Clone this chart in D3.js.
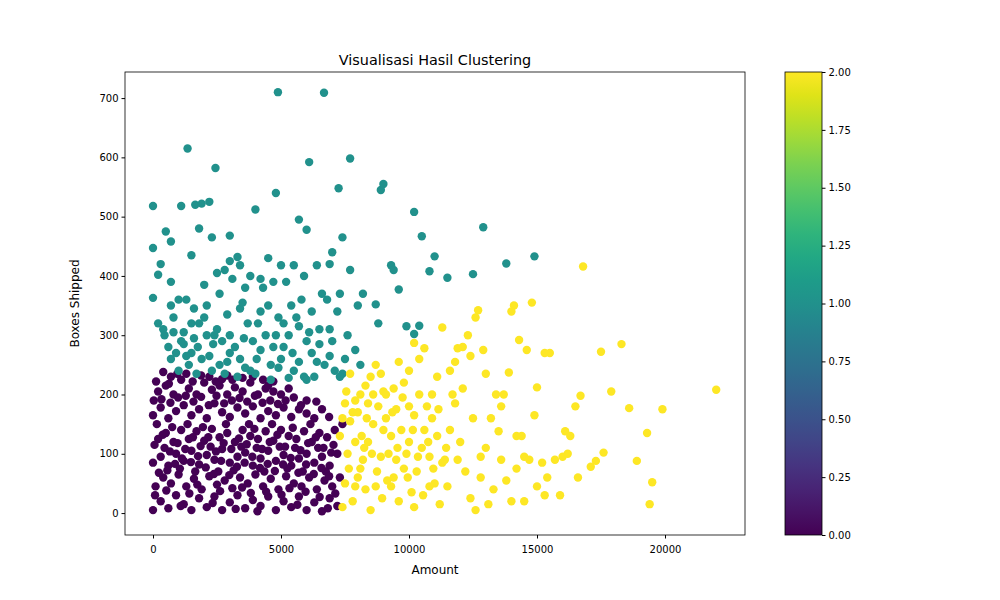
<!DOCTYPE html>
<html>
<head>
<script src="https://d3js.org/d3.v7.min.js"></script>
<style>body{margin:0;background:#fff;} text{font-family:"DejaVu Sans",sans-serif;}</style>
</head>
<body>
<svg width="1000" height="600"></svg>
<script>
// [amount, boxes] per cluster
var cluster0 = [
[0,5],[300,20],[600,8],[900,30],[1200,15],[1500,5],[1800,25],[2100,10],[2400,28],[2700,5],[3000,18],[3300,30],[3600,8],[3900,22],[4200,12],[4500,28],[4800,5],[5100,20],[5400,10],[5700,28],[6000,5],[6300,18],[6600,3],[6900,25],[7200,12],
[100,45],[400,60],[700,50],[1000,65],[1300,45],[1600,58],[1900,40],[2200,62],[2500,48],[2800,55],[3100,42],[3400,60],[3700,50],[4000,65],[4300,45],[4600,58],[4900,40],[5200,62],[5500,50],[5800,45],[6100,60],[6400,40],[6700,55],[7000,45],
[0,85],[300,95],[600,80],[900,100],[1200,88],[1500,105],[1800,82],[2100,98],[2400,90],[2700,108],[3000,85],[3300,95],[3600,102],[3900,80],[4200,92],[4500,105],[4800,88],[5100,98],[5400,80],[5700,92],[6000,100],[6300,85],[6600,95],[6900,80],[7200,100],
[200,125],[500,135],[800,120],[1100,140],[1400,125],[1700,138],[2000,122],[2300,142],[2600,128],[2900,135],[3200,120],[3500,140],[3800,130],[4100,125],[4400,138],[4700,122],[5000,140],[5300,130],[5600,125],[5900,138],[6200,120],[6500,135],[6800,128],[7100,140],
[0,165],[300,178],[600,160],[900,172],[1200,182],[1500,165],[1800,175],[2100,160],[2400,185],[2700,170],[3000,162],[3300,178],[3600,168],[3900,180],[4200,160],[4500,172],[4800,165],[5100,178],[5400,162],[5700,175],[6000,168],[6300,160],[6600,175],
[200,205],[500,215],[800,200],[1100,225],[1400,210],[1700,200],[2000,220],[2300,208],[2600,215],[2900,200],[3200,212],[3500,205],[3800,220],[4100,200],[4400,210],[4700,205],[5000,200],[5500,195],[6000,190],
[400,238],[700,230],[1300,235],[2200,230],[2900,232],[3500,228],[4300,225],[4700,222],
[150,150],[450,110],[750,145],[1050,75],[1350,150],[1650,70],[1950,145],[2250,112],[2550,70],[2850,150],[3150,72],[3450,112],[3750,150],[4050,110],[4350,70],[4650,150],[4950,112],[5250,75],[5550,110],[5850,70],[6150,150],[6450,110],[6750,70],[7050,115],[7300,60],[7400,150],
[80,30],[520,38],[1080,12],[1420,33],[1730,48],[2330,17],[2620,37],[3230,7],[3480,43],[3820,34],[4080,3],[4420,36],[5020,31],[5330,42],[5640,14],[5960,36],[6510,27],[6830,8],[7120,33],
[230,68],[560,72],[860,83],[1130,92],[1480,86],[1760,96],[2060,77],[2380,66],[2660,88],[2980,64],[3280,78],[3580,85],[3880,95],[4180,76],[4480,83],[4760,71],[5080,82],[5380,93],[5680,68],[5980,82],[6280,66],[6580,76],[6880,62],
[60,115],[380,132],[660,104],[960,118],[1260,108],[1560,128],[1860,113],[2160,128],[2460,104],[2760,118],[3060,108],[3360,126],[3660,116],[3960,142],[4260,108],[4560,120],[4860,132],[5160,112],[5460,144],[5760,106],[6060,118],[6360,128],[6660,110],[6960,102],
[30,190],[330,192],[680,186],[980,195],[1280,198],[1580,188],[1880,196],[2180,182],[2480,198],[2780,185],[3080,190],[3380,194],[3680,188],[3980,198],[4280,186],[4580,190],[4880,184],[5180,190],[5780,182],[6380,188],[6880,162],
[120,222],[620,218],[950,235],[1550,222],[1880,232],[2450,222],[2700,226],[3100,225],[3900,230],[4500,215],[5300,210]
];
var cluster1 = [
[4880,710],[6680,709],[1350,615],[2440,582],[6100,592],[7700,598],[0,518],[1100,518],[1650,520],[1900,522],[2200,525],[4800,540],[7250,548],[8900,545],[9000,555],[10200,508],[12900,482],[0,447],[500,475],[700,458],[3000,468],[4000,512],[5700,495],[6000,478],[7400,465],[10500,467],[13800,421],[14900,433],[9300,418],[11000,433],[10800,408],[11500,397],[12500,403],[9600,377],[8700,352],[9900,315],[10200,302],[10400,316],[8200,370],[8000,350],[7000,440],[6900,420],[6400,418],[7700,410],[5500,418],[5000,418],[4500,430],[4200,395],[3800,400],[3400,418],[3000,425],[2800,410],[2300,465],[2000,385],[1800,480],[1500,435],[700,390],[300,420],[200,402],[0,363],[200,320],[400,310],[700,350],[1000,360],[1300,360],[1500,320],[1800,320],[2100,300],[2500,310],[3000,300],[3400,345],[3700,320],[4100,320],[4500,350],[4900,330],[5300,300],[5600,330],[6100,305],[6500,310],[6900,310],[7200,340],[7600,300],[7900,275],[8100,250],[600,280],[900,270],[1200,285],[1500,270],[1900,260],[2200,265],[2600,250],[3000,270],[3400,260],[3800,240],[4200,275],[4600,250],[5000,260],[5500,240],[5900,230],[6300,230],[6700,250],[7100,240],[7500,260],[1000,240],[1700,235],[2300,240],[2800,235],[3300,230],[4000,235],[4600,225],[5300,228],[6000,225],[7400,235],[5200,390],[5800,360],[6600,370],[3600,380],[2600,370],[1200,305],[800,330],[5100,280],[6200,270],[4400,300],[3200,280],[2700,290],[7000,290],[9400,410],[8800,320],[6800,360],[5400,350],[4300,380],[3500,355],[2100,350],[1600,295],[1400,250],[700,260],[4800,300],[5700,255],[6500,285],[7300,370],[3300,432],[2500,405],[3900,290],
[450,300],[1100,290],[1750,280],[2350,285],[2900,255],[3550,295],[4050,260],[4700,280],[5450,270],[6000,290],[6900,265],[7300,230],[1300,265],[2400,300],[3600,245],[4900,245],[6400,255],[5100,320],[2000,330],[800,305],[1600,345],[2900,335],[4200,340],[5700,315],[6200,340],[3100,395],[4700,390],[5900,400]
];
var cluster2 = [
[16800,416],[22000,208],[19900,175],[19300,135],[19500,52],[19400,15],[18900,88],[18600,177],[18300,285],[17900,205],[17500,272],[17300,88],[17600,102],[17100,78],[16700,198],[16500,180],[16300,130],[16100,138],[16000,95],[15900,30],[15500,270],[15300,270],[15000,212],[14900,165],[15200,85],[15400,60],[14800,355],[14600,275],[14300,292],[14100,350],[14000,340],[13900,237],[14200,130],[14500,95],[14500,20],[13700,200],[13600,180],[13500,138],[13300,40],[13000,235],[12900,275],[12700,342],[12600,330],[12400,265],[12300,300],[12100,280],[11900,278],[11800,255],[11600,240],[11300,313],[11100,230],[10900,200],[10600,278],[10400,260],[10200,287],[10000,240],[9800,220],[9600,255],[9400,210],[9100,200],[8900,235],[8700,250],[8500,230],[8300,215],[8100,200],[7900,190],[7700,235],[7500,185],[7400,160],[7300,130],
[7600,100],[7500,50],[7400,10],[7800,20],[8000,60],[8200,90],[8400,120],[8600,150],[8800,180],[9000,140],[9200,100],[9400,60],[9600,20],[9800,75],[10000,120],[10200,165],[10400,200],[10600,140],[10800,95],[11000,50],[11200,15],[11400,90],[11600,140],[11800,185],[12000,120],[12200,70],[12400,25],[12600,5],[12800,60],[13000,110],[13200,160],[13400,200],[13600,90],[13800,55],[14000,20],[14200,75],[14400,130],[14700,90],[15000,45],[15300,30],[15700,90],[16200,100],[16600,60],
[7700,155],[7900,120],[8100,75],[8300,40],[8500,5],[8700,45],[8900,95],[9100,160],[9300,130],[9500,175],[9700,140],[9900,100],[10100,35],[10300,70],[10500,110],[10700,180],[10900,160],[11100,130],[11300,85],[11500,45],[12100,210],[12500,160],[12800,95],[13100,15],[11700,200],[8000,170],[8400,185],[9300,45],[10200,10],
[7650,75],[7900,45],[8150,130],[8350,160],[8550,100],[8750,70],[8950,25],[9150,55],[9350,170],[9550,110],[9750,195],[9950,60],[10150,140],[10350,95],[10550,30],[10750,120],[10950,75],[11150,175],[11450,110],[7550,205],[7800,170],[8250,110],[8600,200],[9000,205],[9500,90],[10000,180],[10800,45],[11900,90]
];
var xTicks = [0,5000,10000,15000,20000];
var yTicks = [0,100,200,300,400,500,600,700];
var cTicks = [0,0.25,0.5,0.75,1,1.25,1.5,1.75,2];

var svg = d3.select("svg");
var L = 125, R = 745, T = 72, B = 535;
var x = d3.scaleLinear().domain([-1094, 23125]).range([L, R]);
var y = d3.scaleLinear().domain([-37, 744]).range([B, T]);

var points = [];
[cluster0, cluster1, cluster2].forEach(function(c, i) {
    c.forEach(function(d) { points.push({a: d[0], b: d[1], k: i}); });
});

svg.append("g").selectAll("circle").data(points).enter().append("circle")
    .attr("cx", function(d) { return x(d.a); })
    .attr("cy", function(d) { return y(d.b); })
    .attr("r", 4.2)
    .style("fill", function(d) { return d3.interpolateViridis(d.k / 2); });

svg.append("rect").attr("x", L).attr("y", T).attr("width", R - L).attr("height", B - T)
    .style("fill", "none").style("stroke", "#000").style("stroke-width", 0.8);

svg.append("g").attr("transform", "translate(0," + B + ")")
    .call(d3.axisBottom(x).tickValues(xTicks).tickFormat(d3.format("d")).tickSizeOuter(0).tickSize(3.5))
    .call(function(g) { g.select(".domain").remove(); g.selectAll("text").attr("font-size", 10).attr("dy", "1.1em"); });
svg.append("g").attr("transform", "translate(" + L + ",0)")
    .call(d3.axisLeft(y).tickValues(yTicks).tickSizeOuter(0).tickSize(3.5))
    .call(function(g) { g.select(".domain").remove(); g.selectAll("text").attr("font-size", 10); });

svg.append("text").attr("x", (L + R) / 2).attr("y", 65).attr("text-anchor", "middle").attr("font-size", 14.4).text("Visualisasi Hasil Clustering");
svg.append("text").attr("x", (L + R) / 2).attr("y", 574).attr("text-anchor", "middle").attr("font-size", 12).text("Amount");
svg.append("text").attr("transform", "translate(79," + (T + B) / 2 + ") rotate(-90)").attr("text-anchor", "middle").attr("font-size", 12).text("Boxes Shipped");

// colorbar
var cx0 = 785, cw = 37;
var cy = d3.scaleLinear().domain([0, 2]).range([B, T]);
var defs = svg.append("defs");
var grad = defs.append("linearGradient").attr("id", "vir").attr("x1", 0).attr("y1", 1).attr("x2", 0).attr("y2", 0);
d3.range(0, 1.001, 0.05).forEach(function(t) {
    grad.append("stop").attr("offset", t).attr("stop-color", d3.interpolateViridis(t));
});
svg.append("rect").attr("x", cx0).attr("y", T).attr("width", cw).attr("height", B - T)
    .style("fill", "url(#vir)").style("stroke", "#000").style("stroke-width", 0.8);
svg.append("g").attr("transform", "translate(" + (cx0 + cw) + ",0)")
    .call(d3.axisRight(cy).tickValues(cTicks).tickFormat(d3.format(".2f")).tickSizeOuter(0).tickSize(3.5))
    .call(function(g) { g.select(".domain").remove(); g.selectAll("text").attr("font-size", 10); });
</script>
</body>
</html>
